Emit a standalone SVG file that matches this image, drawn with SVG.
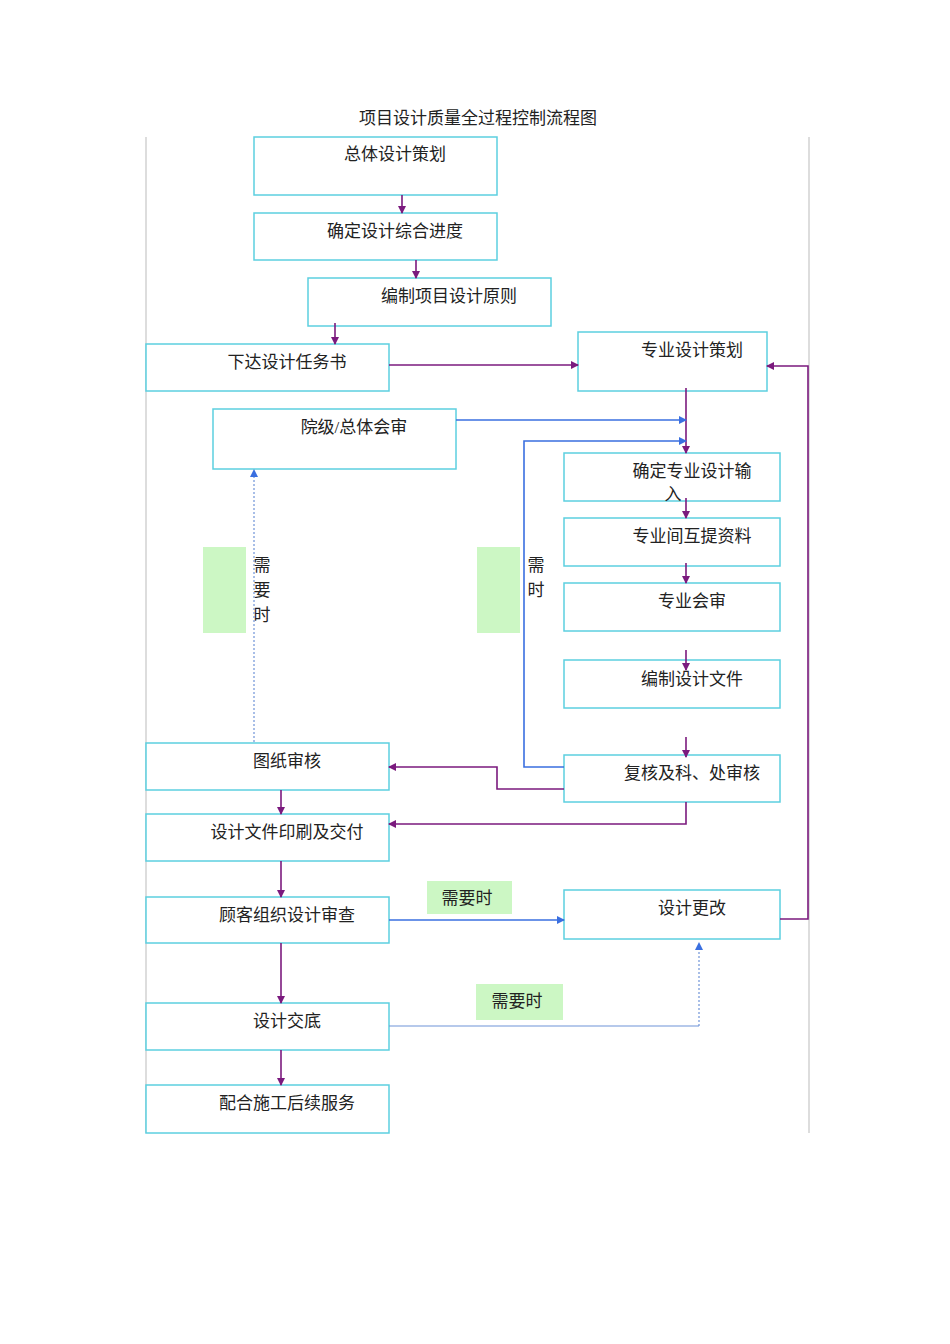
<svg xmlns="http://www.w3.org/2000/svg" width="950" height="1344" viewBox="0 0 950 1344">
<style>
.b{fill:#fff;stroke:#5ccfe0;stroke-width:1.5}
.t{font-family:"Liberation Serif","Noto Sans CJK SC",serif;font-size:17px;fill:#222;text-anchor:middle}
.p{fill:none;stroke:#7b1a7e;stroke-width:1.6}
.u{fill:none;stroke:#3a6fe0;stroke-width:1.6}
.d{fill:none;stroke:#6f93d8;stroke-width:1.2;stroke-dasharray:2 2}
.g{fill:#ccf7c4}
</style>
<defs>
<marker id="mp" markerWidth="8" markerHeight="8" refX="7" refY="4" orient="auto" markerUnits="userSpaceOnUse"><path d="M0,0L8,4L0,8z" fill="#7b1a7e"/></marker>
<marker id="mb" markerWidth="8" markerHeight="8" refX="7" refY="4" orient="auto" markerUnits="userSpaceOnUse"><path d="M0,0L8,4L0,8z" fill="#3a6fe0"/></marker>
</defs>
<rect width="950" height="1344" fill="#fff"/>
<line x1="146" y1="137" x2="146" y2="1133" stroke="#bbb"/>
<line x1="809" y1="137" x2="809" y2="1133" stroke="#bbb"/>
<text class="t" x="478" y="124">项目设计质量全过程控制流程图</text>
<g id="labels">
<rect class="g" x="203" y="547" width="43" height="86"/>
<text class="t" x="262" y="571">需</text><text class="t" x="262" y="596">要</text><text class="t" x="262" y="621">时</text>
<rect class="g" x="477" y="547" width="43" height="86"/>
<text class="t" x="536" y="571">需</text><text class="t" x="536" y="596">时</text>
<rect class="g" x="427" y="881" width="85" height="33"/>
<text class="t" x="467" y="904">需要时</text>
<rect class="g" x="476" y="984" width="87" height="36"/>
<text class="t" x="517" y="1007">需要时</text>
</g>
<g id="n1"><rect class="b" x="254" y="137" width="243" height="58"/><text class="t" x="395" y="160">总体设计策划</text></g>
<g id="n2"><rect class="b" x="254" y="213" width="243" height="47"/><text class="t" x="395" y="237">确定设计综合进度</text></g>
<g id="n3"><rect class="b" x="308" y="278" width="243" height="48"/><text class="t" x="449" y="302">编制项目设计原则</text></g>
<g id="n4"><rect class="b" x="146" y="344" width="243" height="47"/><text class="t" x="287" y="368">下达设计任务书</text></g>
<g id="n5"><rect class="b" x="578" y="332" width="189" height="59"/><text class="t" x="692" y="356">专业设计策划</text></g>
<g id="n6"><rect class="b" x="213" y="409" width="243" height="60"/><text class="t" x="354" y="433">院级/总体会审</text></g>
<g id="n7"><rect class="b" x="564" y="453" width="216" height="48"/><text class="t" x="692" y="477">确定专业设计输</text><text class="t" x="673" y="500">入</text></g>
<g id="n8"><rect class="b" x="564" y="518" width="216" height="48"/><text class="t" x="692" y="542">专业间互提资料</text></g>
<g id="n9"><rect class="b" x="564" y="583" width="216" height="48"/><text class="t" x="692" y="607">专业会审</text></g>
<g id="n10"><rect class="b" x="564" y="660" width="216" height="48"/><text class="t" x="692" y="685">编制设计文件</text></g>
<g id="n11"><rect class="b" x="564" y="755" width="216" height="47"/><text class="t" x="692" y="779">复核及科、处审核</text></g>
<g id="n12"><rect class="b" x="146" y="743" width="243" height="47"/><text class="t" x="287" y="767">图纸审核</text></g>
<g id="n13"><rect class="b" x="146" y="814" width="243" height="47"/><text class="t" x="287" y="838">设计文件印刷及交付</text></g>
<g id="n14"><rect class="b" x="146" y="897" width="243" height="46"/><text class="t" x="287" y="921">顾客组织设计审查</text></g>
<g id="n15"><rect class="b" x="564" y="890" width="216" height="49"/><text class="t" x="692" y="914">设计更改</text></g>
<g id="n16"><rect class="b" x="146" y="1003" width="243" height="47"/><text class="t" x="287" y="1027">设计交底</text></g>
<g id="n17"><rect class="b" x="146" y="1085" width="243" height="48"/><text class="t" x="287" y="1109">配合施工后续服务</text></g>
<g id="connectors">
<path class="p" d="M402,195V213" marker-end="url(#mp)"/>
<path class="p" d="M416,260V278" marker-end="url(#mp)"/>
<path class="p" d="M335,323V344" marker-end="url(#mp)"/>
<path class="p" d="M389,365H578" marker-end="url(#mp)"/>
<path class="p" d="M686,388V453" marker-end="url(#mp)"/>
<path class="p" d="M686,498V518" marker-end="url(#mp)"/>
<path class="p" d="M686,563V583" marker-end="url(#mp)"/>
<path class="p" d="M686,650V670" marker-end="url(#mp)"/>
<path class="p" d="M686,737V757" marker-end="url(#mp)"/>
<path class="p" d="M564,789H497V767H389" marker-end="url(#mp)"/>
<path class="p" d="M686,802V824H389" marker-end="url(#mp)"/>
<path class="p" d="M281,790V814" marker-end="url(#mp)"/>
<path class="p" d="M281,861V897" marker-end="url(#mp)"/>
<path class="p" d="M281,943V1003" marker-end="url(#mp)"/>
<path class="p" d="M281,1050V1085" marker-end="url(#mp)"/>
<path class="p" d="M780,919H808V366H767" marker-end="url(#mp)"/>
<path class="u" d="M456,420H686" marker-end="url(#mb)"/>
<path class="u" d="M564,767H524V441H686" marker-end="url(#mb)"/>
<path class="u" d="M389,920H564" marker-end="url(#mb)"/>
<path fill="none" stroke="#6f93d8" stroke-width="1.2" d="M389,1026H699"/>
<path class="d" d="M699,1026V943" marker-end="url(#mb)"/>
<path class="d" d="M254,742V470" marker-end="url(#mb)"/>
</g>
</svg>
